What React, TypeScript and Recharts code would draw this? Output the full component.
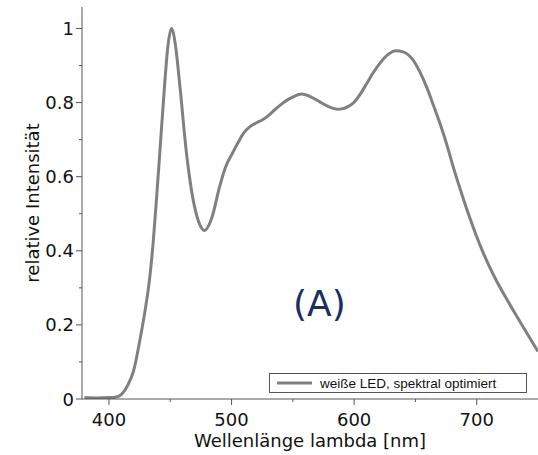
import React from 'react';
import { LineChart, Line, XAxis, YAxis, Legend } from 'recharts';

// wavelength [nm] and relative intensity
const wavelengths = [
  380, 390, 400, 405, 410, 415, 420, 425, 430, 433, 436, 439, 442, 445, 448, 451, 454, 458, 463,
  468, 473, 478, 484, 490, 495, 501, 505, 510, 515, 520, 525, 530, 535, 540, 545, 550, 557, 565,
  572, 580, 587, 590, 595, 600, 605, 610, 615, 621, 627, 634, 640, 648, 654, 659, 665, 670, 677,
  680, 685, 690, 695, 700, 705, 710, 716, 722, 730, 740, 750,
];
const intensity = [
  0.004, 0.003, 0.004, 0.005, 0.012, 0.035, 0.075, 0.155, 0.25, 0.32, 0.42, 0.55, 0.69, 0.83,
  0.95, 1.0, 0.96, 0.84, 0.67, 0.55, 0.48, 0.455, 0.49, 0.57, 0.625, 0.665, 0.69, 0.718, 0.735,
  0.745, 0.753, 0.765, 0.78, 0.794, 0.806, 0.815, 0.823, 0.815, 0.802, 0.788, 0.782, 0.783, 0.789,
  0.801, 0.823, 0.85, 0.878, 0.906, 0.928, 0.94, 0.937, 0.915, 0.88, 0.843, 0.79, 0.744, 0.671,
  0.636, 0.582, 0.531, 0.483, 0.438, 0.397, 0.36, 0.32, 0.284, 0.238, 0.183, 0.128,
];

const xTicks = [400, 450, 500, 550, 600, 650, 700];
const xLabeled = [400, 500, 600, 700];
const yTicks = [0, 0.1, 0.2, 0.3, 0.4, 0.5, 0.6, 0.7, 0.8, 0.9, 1];
const yLabeled = [0, 0.2, 0.4, 0.6, 0.8, 1];

const seriesName = 'weiße LED, spektral optimiert';

const data = wavelengths.map((w, i) => ({ w, v: intensity[i] }));

const AXIS = '#555';
const FONT = '"DejaVu Sans", sans-serif';

const XTick = (props: any) => {
  const { x, y, payload } = props;
  const major = xLabeled.includes(payload.value);
  return (
    <g>
      <line x1={x} x2={x} y1={y} y2={y + (major ? 6 : 3)} stroke={AXIS} />
      {major && (
        <text x={x} y={y + 27} textAnchor="middle" fontSize={18} fontFamily={FONT} fill="#111">
          {payload.value}
        </text>
      )}
    </g>
  );
};

const YTick = (props: any) => {
  const { x, y, payload } = props;
  const major = yLabeled.includes(payload.value);
  return (
    <g>
      <line x1={x - (major ? 6 : 3)} x2={x} y1={y} y2={y} stroke={AXIS} />
      {major && (
        <text x={x - 8} y={y + 6.5} textAnchor="end" fontSize={18} fontFamily={FONT} fill="#111">
          {payload.value}
        </text>
      )}
    </g>
  );
};

const LegendBox = () => (
  <div
    style={{
      boxSizing: 'border-box',
      width: 258,
      height: 20,
      border: '1px solid #555',
      background: '#fff',
      display: 'flex',
      alignItems: 'center',
      fontFamily: '"Liberation Sans", Arial, sans-serif',
      fontSize: 13.5,
      color: '#111',
    }}
  >
    <svg width={50} height={18}>
      <line x1={7} x2={42} y1={9} y2={9} stroke="#808080" strokeWidth={3} />
    </svg>
    <span>{seriesName}</span>
  </div>
);

export default function App() {
  return (
    <div style={{ position: 'absolute', left: 0, top: 0, width: 538, height: 455, background: '#fff' }}>
      <LineChart width={538} height={455} data={data} margin={{ top: 7, right: 0, left: 0, bottom: 0 }}>
        <XAxis
          dataKey="w"
          type="number"
          domain={[378, 750]}
          ticks={xTicks}
          tick={<XTick />}
          tickLine={false}
          tickSize={0}
          tickMargin={0}
          height={56}
          axisLine={{ stroke: AXIS }}
          allowDataOverflow
          label={{
            value: 'Wellenlänge lambda [nm]',
            position: 'insideBottom',
            offset: 8,
            style: { fontSize: 18, fontFamily: FONT, fill: '#111' },
          }}
        />
        <XAxis
          xAxisId="top"
          dataKey="w"
          type="number"
          domain={[378, 750]}
          orientation="top"
          height={0}
          tick={false}
          tickLine={false}
          axisLine={{ stroke: AXIS }}
        />
        <YAxis
          type="number"
          domain={[0, 1.058]}
          ticks={yTicks}
          tick={<YTick />}
          tickLine={false}
          tickSize={0}
          tickMargin={0}
          width={82}
          axisLine={{ stroke: AXIS }}
          allowDataOverflow
          label={{
            value: 'relative Intensität',
            angle: -90,
            position: 'insideLeft',
            offset: 33,
            style: { fontSize: 18, fontFamily: FONT, fill: '#111', textAnchor: 'middle' },
          }}
        />
        <Legend
          verticalAlign="middle"
          layout="horizontal"
          content={<LegendBox />}
          wrapperStyle={{ left: 269, top: 373, width: 258, height: 20 }}
        />
        <Line
          dataKey="v"
          name={seriesName}
          type="monotone"
          stroke="#808080"
          strokeWidth={3}
          dot={false}
          isAnimationActive={false}
        />
      </LineChart>
      <div
        style={{
          position: 'absolute',
          left: 293,
          top: 286,
          fontFamily: FONT,
          fontSize: 36,
          lineHeight: 1,
          color: '#1b2f5f',
        }}
      >
        (A)
      </div>
    </div>
  );
}
